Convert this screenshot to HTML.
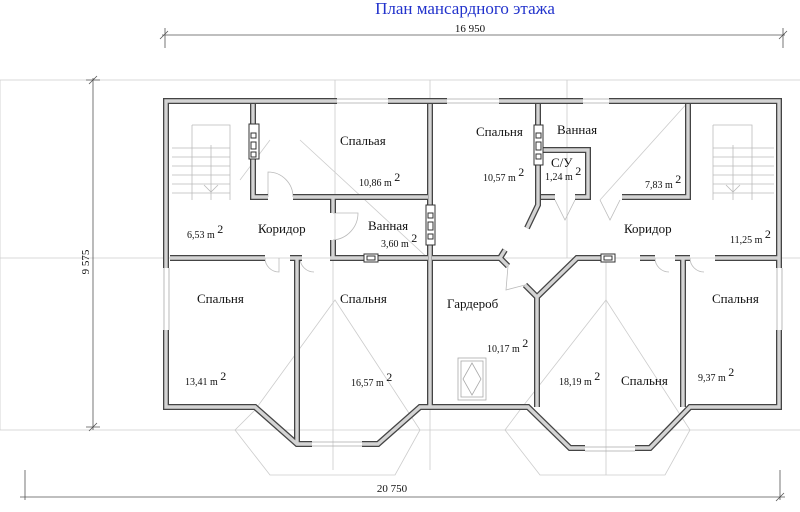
<!DOCTYPE html>
<html><head><meta charset="utf-8"><style>
html,body{margin:0;padding:0;background:#fff;width:800px;height:512px;overflow:hidden}
svg{display:block}
text{font-family:"Liberation Serif",serif;fill:#111}
</style></head><body>
<svg width="800" height="512" viewBox="0 0 800 512">
<!-- guide lines -->
<g stroke="#ccc" stroke-width="0.8" fill="none">
<path d="M0 80 H800 M0 80 V430 H800 M0 258 H800 M335 80 V258 M567 80 V258 M430 80 V470 M606 255 V475 M333 258 V470"/>
<path d="M255 410 L235 430 L270 475 H395 L420 430 L335 300 L255 410"/>
<path d="M520 410 L505 430 L540 475 H665 L690 430 L606 300 L520 410"/>
<path d="M240 180 L270 140 M300 140 L430 260 M600 200 L690 100"/>
</g>
<!-- dimension lines -->
<g stroke="#555" stroke-width="0.8" fill="none">
<path d="M162 35 H785 M165 28 V48 M783 28 V48 M160 39 L168 31 M779 39 L787 31"/>
<path d="M93 78 V430 M86 80 H100 M86 427 H100 M89 84 L97 76 M89 431 L97 423"/>
<path d="M20 497 H785 M25 470 V500 M780 470 V500 M776 501 L784 493"/>
</g>
<text x="465" y="14" font-size="17" fill="#2233cc" style="fill:#2233cc" text-anchor="middle">План мансардного этажа</text>
<text x="470" y="32" font-size="11" text-anchor="middle">16 950</text>
<text x="392" y="492" font-size="11" text-anchor="middle">20 750</text>
<text x="0" y="0" font-size="11" text-anchor="middle" transform="translate(89 262) rotate(-90)">9 575</text>
<!-- stairs -->
<g stroke="#bbb" stroke-width="0.8" fill="none">
<path d="M192 125 H230 V200 M192 125 V200 M172 148 H230 M172 157 H230 M172 166 H230 M172 175 H230 M172 184 H230 M172 193 H230 M211 145 V200 M204 185 L211 192 L218 185"/>
<path d="M713 125 H752 V200 M713 125 V200 M713 148 H774 M713 157 H774 M713 166 H774 M713 175 H774 M713 184 H774 M713 193 H774 M733 145 V200 M726 185 L733 192 L740 185"/>
</g>
<!-- windows (light) -->
<g stroke="#aaa" stroke-width="0.8" fill="none">
<path d="M337 99 H388 M337 103 H388 M447 99 H499 M447 103 H499 M583 99 H609 M583 103 H609"/>
<path d="M164 268 V330 M169 268 V330 M777 268 V330 M782 268 V330"/>
<path d="M312 442 H362 M312 446 H362 M585 447 H635 M585 451 H635"/>
<rect x="458" y="358" width="28" height="42"/><rect x="461" y="361" width="22" height="36"/><path d="M472 363 L481 379 L472 395 L463 379 Z"/>
</g>
<!-- doors arcs -->
<g stroke="#bbb" stroke-width="0.8" fill="none">
<path d="M268 197 V172 A25 25 0 0 1 293 197"/>
<path d="M333 213 H358 A27 27 0 0 1 333 240"/>
<path d="M265 258 A14 14 0 0 0 279 272 V258 M300 258 A14 14 0 0 0 314 272"/>
<path d="M555 200 L565 220 L575 200 M600 200 L610 220 L620 200"/>
<path d="M508 266 L506 290 L525 285"/>
<path d="M655 258 A14 14 0 0 0 669 272 M690 258 A14 14 0 0 0 704 272"/>
</g>
<!-- walls -->
<g fill="none" stroke-linejoin="miter" stroke-linecap="butt">
<g stroke="#444" stroke-width="6">
<path d="M337 101 H166 V268 M166 330 V407 H255 L297 444 H312 M362 444 H378 L420 407 H528 L570 448 H585 M635 448 H650 L690 407 H779 V330 M779 268 V101 H609 M583 101 H499 M447 101 H388"/>
<path d="M253 104 V197 H268 M293 197 H428 M430 104 V407 M538 104 V205 L527 228 M505 250 L500 258 H432"/>
<path d="M333 197 V213 M333 240 V258"/>
<path d="M170 258 H265 M290 258 H302 M330 258 H428 M297 258 V444"/>
<path d="M500 258 L508 266 M525 285 L537 297 L577 258 H615 M640 258 H655 M675 258 H690 M715 258 H779 M537 297 V407 M683 258 V407"/>
<path d="M541 150 H588 V197 H575 M555 197 H541 M622 197 H688 V104"/>
</g>
<g stroke="#d4d4d4" stroke-width="3.4">
<path d="M337 101 H166 V268 M166 330 V407 H255 L297 444 H312 M362 444 H378 L420 407 H528 L570 448 H585 M635 448 H650 L690 407 H779 V330 M779 268 V101 H609 M583 101 H499 M447 101 H388"/>
<path d="M253 104 V197 H268 M293 197 H428 M430 104 V407 M538 104 V205 L527 228 M505 250 L500 258 H432"/>
<path d="M333 197 V213 M333 240 V258"/>
<path d="M170 258 H265 M290 258 H302 M330 258 H428 M297 258 V444"/>
<path d="M500 258 L508 266 M525 285 L537 297 L577 258 H615 M640 258 H655 M675 258 H690 M715 258 H779 M537 297 V407 M683 258 V407"/>
<path d="M541 150 H588 V197 H575 M555 197 H541 M622 197 H688 V104"/>
</g>
</g>
<!-- vents -->
<g fill="#fff" stroke="#333" stroke-width="1">
<rect x="249" y="124" width="10" height="35"/><rect x="251" y="133" width="5" height="5"/><rect x="251" y="142" width="5" height="7"/><rect x="251" y="152" width="5" height="5"/>
<rect x="426" y="205" width="9" height="40"/><rect x="428" y="213" width="5" height="5"/><rect x="428" y="222" width="5" height="8"/><rect x="428" y="234" width="5" height="5"/>
<rect x="534" y="125" width="9" height="40"/><rect x="536" y="133" width="5" height="5"/><rect x="536" y="142" width="5" height="8"/><rect x="536" y="154" width="5" height="5"/>
<rect x="364" y="254" width="14" height="8"/><rect x="367" y="256" width="8" height="4"/>
<rect x="601" y="254" width="14" height="8"/><rect x="604" y="256" width="8" height="4"/>
</g>
<!-- labels -->
<g font-size="13">
<text x="340" y="145">Спальая</text>
<text x="258" y="233">Коридор</text>
<text x="368" y="230">Ванная</text>
<text x="476" y="136">Спальня</text>
<text x="557" y="134">Ванная</text>
<text x="551" y="167">С/У</text>
<text x="624" y="233">Коридор</text>
<text x="197" y="303">Спальня</text>
<text x="340" y="303">Спальня</text>
<text x="447" y="308">Гардероб</text>
<text x="621" y="385">Спальня</text>
<text x="712" y="303">Спальня</text>
</g>
<g font-size="10">
<text x="359" y="186">10,86 m <tspan dy="-5" font-size="12">2</tspan></text>
<text x="187" y="238">6,53 m <tspan dy="-5" font-size="12">2</tspan></text>
<text x="381" y="247">3,60 m <tspan dy="-5" font-size="12">2</tspan></text>
<text x="483" y="181">10,57 m <tspan dy="-5" font-size="12">2</tspan></text>
<text x="545" y="180">1,24 m <tspan dy="-5" font-size="12">2</tspan></text>
<text x="645" y="188">7,83 m <tspan dy="-5" font-size="12">2</tspan></text>
<text x="730" y="243">11,25 m <tspan dy="-5" font-size="12">2</tspan></text>
<text x="185" y="385">13,41 m <tspan dy="-5" font-size="12">2</tspan></text>
<text x="351" y="386">16,57 m <tspan dy="-5" font-size="12">2</tspan></text>
<text x="487" y="352">10,17 m <tspan dy="-5" font-size="12">2</tspan></text>
<text x="559" y="385">18,19 m <tspan dy="-5" font-size="12">2</tspan></text>
<text x="698" y="381">9,37 m <tspan dy="-5" font-size="12">2</tspan></text>
</g>
</svg>
</body></html>
